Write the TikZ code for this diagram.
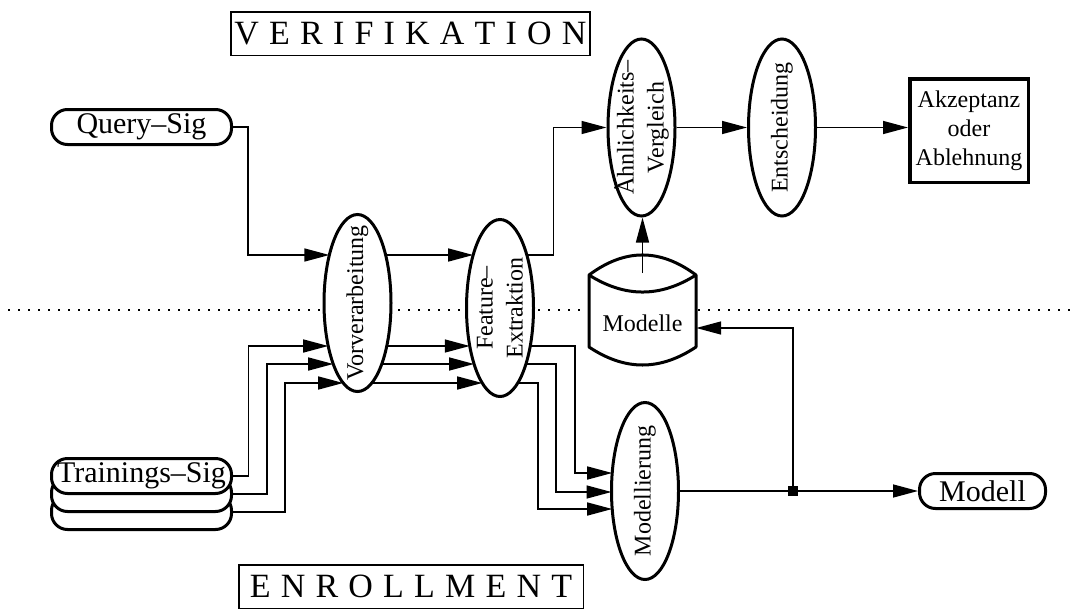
\documentclass[tikz,border=0pt]{standalone}
\usepackage{fontspec}
\setmainfont{Liberation Serif}
\usetikzlibrary{arrows.meta,calc,shapes.geometric}

% half axes of the process ellipses (line centre)
\newcommand\erx{33.5}
\newcommand\ery{88.5}
% point on the border of ellipse #2 at vertical offset #4, side #3 (-1 left, 1 right)
\newcommand\bpt[4]{\coordinate (#1) at ($(#2.center)+({(#3)*\erx*sqrt(1-((#4)/\ery)^2)},{#4})$);}
\newcommand\gp{\hspace{10.2pt}}

\begin{document}
\begin{tikzpicture}[x=1pt,y=-1pt,
  thinline/.style={line width=1.5pt},
  arr/.style={thinline,-{Triangle[length=25pt,width=13pt]}},
  proc/.style={ellipse,draw,line width=3pt,fill=white,minimum width=67pt,minimum height=177pt,inner sep=0pt},
  proctext/.style={rotate=90,align=center,font=\fontsize{24}{30}\selectfont,inner sep=0pt},
  sig/.style={rectangle,rounded corners=16pt,draw,line width=3pt,fill=white,minimum width=180pt,minimum height=35pt,inner sep=0pt,font=\fontsize{30}{36}\selectfont},
  phase/.style={draw,thinline,inner sep=0pt,minimum height=43.5pt,font=\fontsize{34}{40}\selectfont},
]
\useasboundingbox (0,0) rectangle (1071,608);

% separator between verification and enrollment
\draw[line width=2pt,dash pattern=on 2pt off 8pt] (8,309.5) -- (1071,309.5);

% phase titles
\node[phase,minimum width=359pt] (verif) at (410.5,33.5) {V\gp E\gp R\gp I\gp F\gp I\gp K\gp A\gp T\gp I\gp O\gp N};
\node[phase,minimum width=344.5pt] (enrol) at (411,586.5) {E\gp N\gp R\gp O\gp L\gp L\gp M\gp E\gp N\gp T};

% inputs
\node[sig] (query) at (141.5,127) {Query–Sig};
\node[sig] (t3) at (141.5,512) {};
\node[sig] (t2) at (141.5,494) {};
\node[sig] (t1) at (141.5,476) {Trainings–Sig};

% processing steps
\node[proc] (vor) at (357.5,303) {};
\node[proctext] (vorT) at (vor) {Vorverarbeitung};
\node[proc] (fea) at (500,308) {};
\node[proctext] (feaT) at (fea) {Feature–\\Extraktion};
\node[proc] (ahn) at (641.5,127.5) {};
\node[proctext] (ahnT) at (ahn) {Ähnlichkeits–\\Vergleich};
\node[proc] (ent) at (782,127.5) {};
\node[proctext] (entT) at (ent) {Entscheidung};
\node[proc] (mdl) at (645,491) {};
\node[proctext] (mdlT) at (mdl) {Modellierung};

% result box
\node[draw,line width=3.5pt,fill=white,minimum width=118.5pt,minimum height=103.5pt,inner sep=0pt,
      align=center,font=\fontsize{24}{29}\selectfont] (akz) at (969,130.5) {Akzeptanz\\oder\\Ablehnung};

% model database
\node[minimum width=107pt,minimum height=110pt,inner sep=0pt] (db) at (642.5,310) {};
\draw[line width=3pt,fill=white,line join=round]
  (589,275) -- (589,347) .. controls (625,371) and (660,371) .. (696,347) -- (696,275)
  .. controls (660,248.3) and (625,248.3) .. (589,275) -- cycle;
\draw[line width=3pt] (589,275) .. controls (625,297.7) and (660,297.7) .. (696,275);
\node[font=\fontsize{24}{30}\selectfont,inner sep=0pt] (dbtxt) at (642.5,323) {Modelle};
\coordinate (dbR) at ([yshift=-18pt]db.east);
\coordinate (dbT) at ([yshift=37pt]db.center);

% output model
\node[sig,minimum width=126pt] (modell) at (982.5,491) {Modell};
\node[fill,minimum size=10pt,inner sep=0pt] (jn) at (793,491) {};

% border points on the ellipses
\bpt{vl0}{vor}{-1}{-48} \bpt{vl1}{vor}{-1}{43} \bpt{vl2}{vor}{-1}{61} \bpt{vl3}{vor}{-1}{80}
\bpt{vr0}{vor}{1}{-48}  \bpt{vr1}{vor}{1}{43}  \bpt{vr2}{vor}{1}{61}  \bpt{vr3}{vor}{1}{80}
\bpt{fl0}{fea}{-1}{-53} \bpt{fl1}{fea}{-1}{38} \bpt{fl2}{fea}{-1}{56} \bpt{fl3}{fea}{-1}{75}
\bpt{fr0}{fea}{1}{-53}  \bpt{fr1}{fea}{1}{38}  \bpt{fr2}{fea}{1}{56}  \bpt{fr3}{fea}{1}{75}
\bpt{ml1}{mdl}{-1}{-18} \bpt{ml2}{mdl}{-1}{1}  \bpt{ml3}{mdl}{-1}{18}

% verification flow
\draw[arr] (query.east) -- ++(15,0) |- (vl0);
\draw[arr] (vr0) -- (fl0);
\draw[arr] (fr0) -| ([xshift=-53pt]ahn.west) -- (ahn.west);
\draw[arr] (dbT) -- (dbT |- ahn.south);
\draw[arr] (ahn.east) -- (ent.west);
\draw[arr] (ent.east) -- (ent.east -| akz.west);

% enrollment flow
\draw[arr] (t1.east) -- ++(15.5,0) |- (vl1);
\draw[arr] (t2.east) -- ++(34,0) |- (vl2);
\draw[arr] (t3.east) -- ++(52,0) |- (vl3);
\draw[arr] (vr1) -- (fl1);
\draw[arr] (vr2) -- (fl2);
\draw[arr] (vr3) -- (fl3);
\draw[arr] (fr1) -- (575,346) |- (ml1);
\draw[arr] (fr2) -- (556,364) |- (ml2);
\draw[arr] (fr3) -- (538,383) |- (ml3);
\draw[thinline] (mdl.east) -- (jn.center);
\draw[arr] (jn.center) -- (modell.west);
\draw[arr] (jn.center) |- (dbR);
\end{tikzpicture}
\end{document}
